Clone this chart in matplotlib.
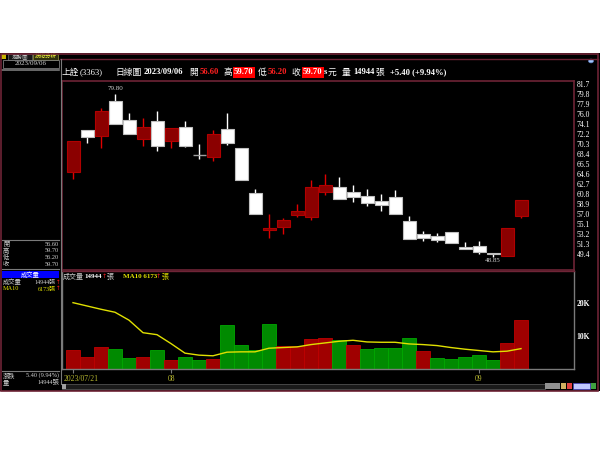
import matplotlib
matplotlib.use('Agg')
import matplotlib.pyplot as plt
from matplotlib.patches import Rectangle
from matplotlib.lines import Line2D
import numpy as np

# daily candles, 2023/07/21 .. 2023/09/06
opens  = [65.05, 72.96, 71.89, 78.47, 74.93, 71.32, 74.61, 70.94, 73.60, 68.15, 67.90, 73.15, 69.61, 61.06, 53.91, 54.61, 56.82,
          56.51, 61.25, 62.08, 61.13, 60.49, 59.55, 60.30, 55.68, 53.28, 52.90, 53.60, 50.68, 50.94, 49.67, 49.10, 56.60]
highs  = [70.88, 72.96, 77.20, 79.80, 76.19, 75.18, 76.64, 73.28, 74.61, 70.24, 72.96, 76.13, 69.61, 61.70, 57.01, 56.32, 58.91,
          63.47, 64.55, 63.98, 62.46, 61.76, 60.75, 61.57, 56.63, 53.79, 53.34, 53.60, 51.63, 51.82, 49.67, 54.30, 59.70]
lows   = [63.60, 70.43, 69.48, 74.10, 72.14, 69.93, 69.04, 69.55, 69.74, 67.52, 67.14, 70.05, 63.47, 57.08, 52.52, 53.28, 56.51,
          55.81, 60.62, 59.80, 59.36, 58.53, 57.52, 56.95, 52.33, 51.95, 51.70, 51.44, 50.30, 49.48, 48.85, 49.10, 56.20]
closes = [70.88, 71.70, 76.64, 74.10, 72.14, 73.53, 69.99, 73.28, 69.99, 68.15, 72.21, 70.43, 63.47, 57.08, 54.29, 55.81, 57.65,
          62.08, 62.46, 59.93, 60.18, 59.04, 58.72, 56.95, 52.33, 52.52, 52.01, 51.57, 50.30, 49.73, 49.35, 54.30, 59.70]
prev_close = 64.50  # close before 07/21

volume = [5760, 3500, 6800, 6000, 3300, 3500, 5800, 2700, 3500, 2600, 3100, 13400, 7400, 5700, 13500, 7000, 7000,
          9100, 9400, 8700, 7400, 6200, 6500, 6500, 9400, 5500, 3300, 3000, 3700, 4200, 2800, 7800, 14944]
ma10 = [20100, 19100, 18100, 17200, 14800, 11000, 10400, 7700, 4800, 4200, 4000, 5100, 5200, 5200, 6300, 6500, 6700,
        7400, 7900, 8400, 8700, 8200, 8100, 8100, 7600, 7400, 7100, 6500, 6000, 5600, 5200, 5400, 6173]

month_ticks = [0, 7, 29]
month_labels = ['2023/07/21', '08', '09']
price_ticks = [81.7, 79.8, 77.9, 76.0, 74.1, 72.2, 70.3, 68.4, 66.5, 64.6, 62.7, 60.8, 58.9, 57.0, 55.1, 53.2, 51.3, 49.4]
vol_ticks = [10000, 20000]
vol_tick_labels = ['10K', '20K']

W, H = 600, 450
SERIF = ['Liberation Serif', 'Noto Sans CJK TC']
CJK = ['Noto Sans CJK TC', 'DejaVu Sans']
MAROON = '#6e2436'
GREY = '#7a7a7a'

fig = plt.figure(figsize=(6, 4.5), dpi=100, facecolor='white')


def fx(x):
    return x / W


def fy(y):
    return 1 - y / H


def prect(x0, y0, x1, y1, **kw):
    fig.add_artist(Rectangle((fx(x0), fy(y1)), (x1 - x0) / W, (y1 - y0) / H, transform=fig.transFigure, **kw))


def pline(xs, ys, **kw):
    fig.add_artist(Line2D([fx(x) for x in xs], [fy(y) for y in ys], transform=fig.transFigure, **kw))


def ptext(x, y, s, **kw):
    kw.setdefault('va', 'center')
    kw.setdefault('family', SERIF)
    fig.text(fx(x), fy(y), s, **kw)


def axrect(x0, y0, x1, y1):
    return [fx(x0), fy(y1), (x1 - x0) / W, (y1 - y0) / H]


# window background
prect(0, 53, 600, 391, fc='black', ec='none', zorder=0)
prect(0.5, 53.5, 598, 390.5, fill=False, ec=MAROON, lw=1.2, zorder=5)
pline([60, 598], [58.5, 58.5], color=MAROON, lw=1)

# tabs
prect(1, 54, 6, 59, fc='#c8b400', ec='none')
prect(8, 54, 32, 59.5, fc='#181818', ec='#707070', lw=0.5)
prect(33, 54, 58, 59.5, fc='#303010', ec='#a0a040', lw=0.5)
ptext(20, 56.8, '走勢圖', ha='center', fontsize=4, color='#c0c0c0', family=CJK)
ptext(45.5, 56.8, '技術分析', ha='center', fontsize=4, color='#ffff40', family=CJK)

# left panel
pline([60.5, 60.5], [59, 384], color=GREY, lw=0.8)
prect(3, 59.5, 59, 68, fill=False, ec=GREY, lw=0.6)
ptext(31, 63.8, '2023/09/06', ha='center', fontsize=5, color='#d8d8d8')
pline([2, 59], [69.5, 69.5], color=GREY, lw=1.2)
pline([2, 59], [240, 240], color=GREY, lw=0.8)
for k, (lab, val) in enumerate(zip(['開', '高', '低', '收'], ['56.60', '59.70', '56.20', '59.70'])):
    ptext(3, 244 + k * 6.7, lab, ha='left', fontsize=4.5, color='#d0d0d0', family=CJK)
    ptext(59, 244 + k * 6.7, val, ha='right', fontsize=4.5, color='#d0d0d0')
pline([2, 59], [269, 269], color=GREY, lw=0.8)
prect(2, 271, 59, 278, fc='#0000ff', ec='none')
ptext(30.5, 274.5, '成交量', ha='center', fontsize=4.5, color='white', family=CJK)
ptext(3, 282, '成交量', ha='left', fontsize=4.5, color='#d0d0d0', family=CJK)
ptext(55.5, 282, '14944張', ha='right', fontsize=4.3, color='#d0d0d0')
ptext(57.8, 282, '↑', ha='center', fontsize=4, color='#ff2020', family='DejaVu Sans')
ptext(3, 289, 'MA10', ha='left', fontsize=4.5, color='#e0e000')
ptext(55.5, 289, '6173張', ha='right', fontsize=4.3, color='#e0e000')
ptext(57.8, 289, '↑', ha='center', fontsize=4, color='#ff2020', family='DejaVu Sans')
pline([2, 59], [370.5, 370.5], color=GREY, lw=0.8)
ptext(3, 375.5, '漲跌', ha='left', fontsize=4.5, color='#d0d0d0', family=CJK)
ptext(59, 375.5, '5.40 (9.94%)', ha='right', fontsize=4.5, color='#d0d0d0')
ptext(3, 382, '量', ha='left', fontsize=4.5, color='#d0d0d0', family=CJK)
ptext(59, 382, '14944張', ha='right', fontsize=4.5, color='#d0d0d0')

# header line
hy = 72.5
CJKS = 6.3
NUMS = 6.2
ptext(62, hy, '上詮', fontsize=CJKS, color='white', family=CJK)
ptext(80, hy, '(3363)', fontsize=NUMS, color='white')
ptext(115, hy, '日線圖', fontsize=CJKS, color='white', family=CJK)
ptext(144, hy, '2023/09/06', fontsize=NUMS, color='white', weight='bold')
ptext(189, hy, '開', fontsize=CJKS, color='white', family=CJK)
ptext(200, hy, '56.60', fontsize=NUMS, color='#ff2020', weight='bold')
ptext(223, hy, '高', fontsize=CJKS, color='white', family=CJK)
ptext(234, hy, '59.70', fontsize=NUMS, color='white', weight='bold',
      bbox=dict(boxstyle='square,pad=0.15', fc='#ff0000', ec='none'))
ptext(258, hy, '低', fontsize=CJKS, color='white', family=CJK)
ptext(268, hy, '56.20', fontsize=NUMS, color='#ff2020', weight='bold')
ptext(291, hy, '收', fontsize=CJKS, color='white', family=CJK)
ptext(303, hy, '59.70', fontsize=NUMS, color='white', weight='bold',
      bbox=dict(boxstyle='square,pad=0.15', fc='#ff0000', ec='none'))
ptext(324, hy, 's', fontsize=NUMS, color='white', weight='bold')
ptext(328, hy, '元', fontsize=CJKS, color='white', family=CJK)
ptext(342, hy, '量', fontsize=CJKS, color='white', family=CJK)
ptext(353, hy, '14944', fontsize=NUMS, color='white', weight='bold')
ptext(375, hy, '張', fontsize=CJKS, color='white', family=CJK)
ptext(390, hy, '+5.40 (+9.94%)', fontsize=NUMS, color='white', weight='bold')
fig.add_artist(plt.Circle((fx(591), fy(61)), 2.5 / W, transform=fig.transFigure, fc='#a0c8ff', ec='#6080c0', lw=0.5))

# price panel: 10 px per 1.9, 81.7 at y=84
n = len(closes)
x = np.arange(n)
px_per_bar = 14.0


def xlim_for(x0, x1):
    return ((x0 - 73) / px_per_bar, (x1 - 73) / px_per_bar)


def price_at(y):
    return 81.7 - (y - 84) * 1.9 / 10


ax = fig.add_axes(axrect(62, 81, 574, 270))
ax.set_facecolor('none')
ax.set_xlim(*xlim_for(62, 574))
ax.set_ylim(price_at(270), price_at(81))
for s in ax.spines.values():
    s.set_color(MAROON)
    s.set_linewidth(1.2)
ax.set_xticks([])
ax.yaxis.tick_right()
ax.set_yticks(price_ticks)
ax.set_yticklabels([f'{t:.1f}' for t in price_ticks])
ax.tick_params(axis='y', length=0, pad=2, labelsize=5.5, labelcolor='white')
for lab in ax.get_yticklabels():
    lab.set_family(SERIF)

o = np.array(opens)
c = np.array(closes)
up = c > o
doji = np.isclose(c, o)
bw = 13 / px_per_bar
for i in range(n):
    if doji[i]:
        ax.vlines(x[i], lows[i], highs[i], color='white', lw=1, zorder=2)
        ax.hlines(o[i], x[i] - bw / 2, x[i] + bw / 2, color='#a0a0a0', lw=1, zorder=3)
        continue
    wick = '#e00000' if up[i] else 'white'
    ax.vlines(x[i], lows[i], highs[i], color=wick, lw=1, zorder=2)
    lo, hi = min(o[i], c[i]), max(o[i], c[i])
    if up[i]:
        ax.bar(x[i], hi - lo, bottom=lo, width=bw, color='#8b0000', edgecolor='#b00000', lw=0.8, zorder=3)
    else:
        ax.bar(x[i], hi - lo, bottom=lo, width=bw, color='white', edgecolor='#c0c0c0', lw=0.8, zorder=3)

imax = int(np.argmax(highs))
imin = int(np.argmin(lows))
ax.annotate(f'{highs[imax]:.2f}', (x[imax], highs[imax]), xytext=(0, 2), textcoords='offset points',
            ha='center', va='bottom', fontsize=5, color='#d0d0d0', family=SERIF)
ax.annotate(f'{lows[imin]:.2f}', (x[imin], lows[imin]), xytext=(0, -1), textcoords='offset points',
            ha='center', va='top', fontsize=5, color='#d0d0d0', family=SERIF)

# volume panel: 33 px per 10K, zero at y=369
axv = fig.add_axes(axrect(62, 271, 574, 369))
axv.set_facecolor('none')
axv.set_xlim(*xlim_for(62, 574))
axv.set_ylim(0, (369 - 271) / 33 * 10000)
for s in axv.spines.values():
    s.set_color(GREY)
    s.set_linewidth(1)
axv.spines['top'].set_color(MAROON)
vol_prev = np.concatenate([[prev_close], c[:-1]])
vol_up = c >= vol_prev
vcol = np.where(vol_up, '#a00000', '#008a00')
vedge = np.where(vol_up, '#c00000', '#00a800')
axv.bar(x, volume, width=0.93, color=vcol, edgecolor=vedge, lw=0.6, zorder=2)
axv.plot(x, ma10, color='#e0e000', lw=1, zorder=3)
axv.yaxis.tick_right()
axv.set_yticks(vol_ticks)
axv.set_yticklabels(vol_tick_labels)
axv.tick_params(axis='y', length=0, pad=2, labelsize=5.5, labelcolor='white')
for lab in axv.get_yticklabels():
    lab.set_family(SERIF)
    lab.set_weight('bold')
axv.set_xticks(month_ticks)
axv.set_xticklabels([])
axv.tick_params(axis='x', length=3, width=0.8, color=GREY, direction='out')
for t, lab in zip(month_ticks, month_labels):
    off = 0.55 if t == 0 else 0
    axv.text(t + off, -0.097, lab, transform=axv.get_xaxis_transform(), ha='center', va='center',
             fontsize=5.5, color='#b8b830', family=SERIF)

# volume header
vy = 277
ptext(63, vy, '成交量', fontsize=5, color='#d0d0d0', family=CJK)
ptext(84.5, vy, '14944', fontsize=5, color='white', weight='bold')
ptext(104, vy, '↑', ha='center', fontsize=4.5, color='#ff2020', family='DejaVu Sans')
ptext(106.5, vy, '張', fontsize=5, color='#d0d0d0', family=CJK)
ptext(123, vy, 'MA10 6173', fontsize=5, color='#e0e000', weight='bold')
ptext(158.8, vy, '↑', ha='center', fontsize=4.5, color='#ff2020', family='DejaVu Sans')
ptext(161.5, vy, '張', fontsize=5, color='#e0e000', family=CJK)

# scrollbar
prect(62, 384, 545, 389, fc='#1a1a1a', ec='#505050', lw=0.6)
prect(62, 384, 66, 389, fc='#a0a0a0', ec='none')
prect(545, 383, 560, 389, fc='#909090', ec='none')
prect(561, 383, 566, 389, fc='#d0b060', ec='none')
prect(567, 383, 572, 389, fc='#e04040', ec='none')
prect(573, 383, 590, 389, fc='#c0c8ff', ec='#4040c0', lw=0.5)
prect(591, 383, 596, 389, fc='#40a040', ec='none')

fig.savefig('out.png', dpi=100, facecolor='white')
